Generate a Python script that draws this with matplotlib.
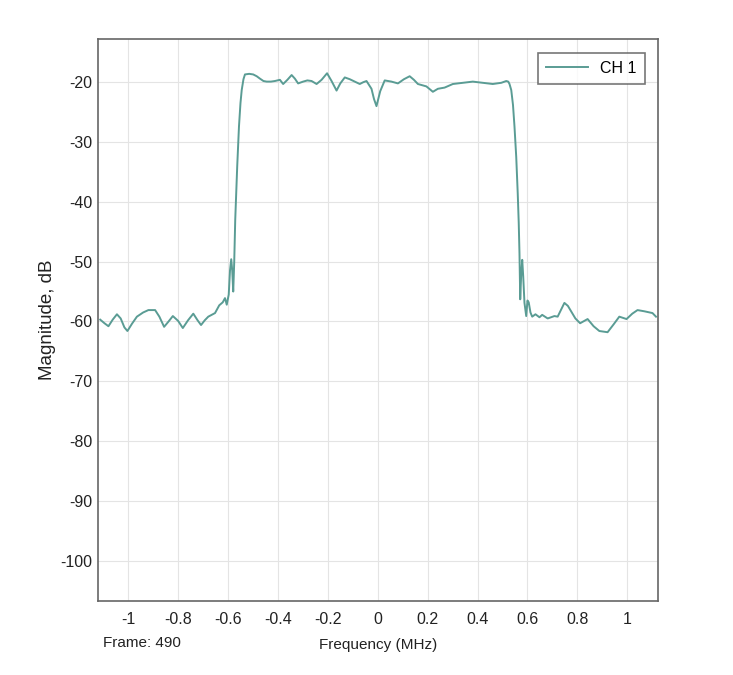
import matplotlib.pyplot as plt

plt.rcParams['font.family'] = ['Liberation Sans', 'DejaVu Sans']
plt.rcParams['axes.unicode_minus'] = False

# frequency response (MHz, dB)
freq = [-1.112, -1.095, -1.079, -1.062, -1.045, -1.030, -1.015, -1.003, -0.985,
        -0.965, -0.940, -0.919, -0.892, -0.875, -0.856, -0.838, -0.821, -0.800,
        -0.781, -0.760, -0.739, -0.722, -0.708, -0.693, -0.679, -0.652, -0.635,
        -0.621, -0.612, -0.605, -0.597, -0.592, -0.587, -0.583, -0.579, -0.575,
        -0.571, -0.563, -0.556, -0.550, -0.545, -0.538, -0.532, -0.515, -0.499,
        -0.485, -0.472, -0.458, -0.445, -0.428, -0.412, -0.392, -0.379, -0.362,
        -0.345, -0.332, -0.319, -0.299, -0.282, -0.265, -0.245, -0.225, -0.203,
        -0.185, -0.165, -0.150, -0.132, -0.112, -0.092, -0.072, -0.058, -0.045,
        -0.025, -0.015, -0.005, 0.010, 0.028, 0.055, 0.081, 0.105, 0.128, 0.145,
        0.161, 0.195, 0.221, 0.241, 0.268, 0.301, 0.341, 0.381, 0.421, 0.461,
        0.495, 0.515, 0.523, 0.528, 0.535, 0.542, 0.548, 0.555, 0.561, 0.565,
        0.568, 0.571, 0.575, 0.579, 0.583, 0.588, 0.595, 0.600, 0.605, 0.612,
        0.619, 0.632, 0.648, 0.659, 0.681, 0.708, 0.721, 0.735, 0.748, 0.762,
        0.775, 0.792, 0.811, 0.841, 0.865, 0.888, 0.921, 0.945, 0.968, 0.997,
        1.020, 1.041, 1.068, 1.101, 1.115]
mag = [-59.7, -60.3, -60.8, -59.7, -58.8, -59.5, -61.0, -61.6, -60.4,
       -59.2, -58.5, -58.1, -58.1, -59.2, -60.9, -60.0, -59.1, -59.9,
       -61.1, -59.8, -58.7, -59.8, -60.6, -59.8, -59.2, -58.6, -57.3,
       -56.8, -56.1, -57.2, -55.5, -51.5, -49.6, -51.5, -55.0, -50.0,
       -43.0, -34.0, -27.4, -23.5, -21.3, -19.5, -18.7, -18.6, -18.7,
       -19.0, -19.4, -19.8, -19.9, -19.9, -19.8, -19.6, -20.3, -19.6,
       -18.8, -19.4, -20.2, -19.9, -19.7, -19.8, -20.3, -19.6, -18.5,
       -19.8, -21.4, -20.2, -19.2, -19.5, -19.9, -20.3, -20.0, -19.8,
       -21.1, -22.8, -24.0, -21.5, -19.7, -19.9, -20.2, -19.5, -19.0, -19.6,
       -20.3, -20.7, -21.6, -21.1, -20.9, -20.3, -20.1, -19.9, -20.1, -20.3,
       -20.1, -19.8, -19.9, -20.3, -21.3, -23.8, -27.4, -32.5, -38.6, -43.5,
       -48.6, -56.3, -52.0, -49.7, -52.5, -56.9, -59.1, -56.5, -56.8, -58.5,
       -59.2, -58.8, -59.3, -58.9, -59.5, -59.1, -59.2, -58.0, -56.9, -57.4,
       -58.3, -59.5, -60.3, -59.6, -60.8, -61.6, -61.8, -60.5, -59.2, -59.6,
       -58.7, -58.1, -58.3, -58.6, -59.2]

xticks = [-1, -0.8, -0.6, -0.4, -0.2, 0, 0.2, 0.4, 0.6, 0.8, 1]
xtick_labels = ['-1', '-0.8', '-0.6', '-0.4', '-0.2', '0', '0.2', '0.4', '0.6', '0.8', '1']
yticks = [-100, -90, -80, -70, -60, -50, -40, -30, -20]

fig = plt.figure(figsize=(7.33, 6.75), dpi=100)
ax = fig.add_axes([0.134, 0.110, 0.764, 0.832])

ax.plot(freq, mag, color='#5a9c94', lw=1.4, label='CH 1')

ax.set_xlim(-1.12, 1.124)
ax.set_ylim(-106.7, -12.8)
ax.set_xticks(xticks)
ax.set_xticklabels(xtick_labels)
ax.set_yticks(yticks)
ax.tick_params(axis='y', length=0, labelsize=11.5, pad=4, colors='#222222')
ax.tick_params(axis='x', length=0, labelsize=11.5, pad=8, colors='#222222')
ax.grid(True, color='#e4e4e4', lw=0.8)
for s in ax.spines.values():
    s.set_color('#666666')
    s.set_linewidth(1.2)

ax.set_xlabel('Frequency (MHz)', fontsize=11, labelpad=8, color='#222222')
ax.set_ylabel('Magnitude, dB', fontsize=13.5, labelpad=3, color='#222222')
fig.text(0.141, 0.042, 'Frame: 490', fontsize=11, color='#222222')

leg = ax.legend(loc='upper right', fontsize=11.5, frameon=True, fancybox=False,
                handlelength=2.6, borderpad=0.5, bbox_to_anchor=(0.99, 0.99))
leg.get_frame().set_edgecolor('#555555')
leg.get_frame().set_linewidth(1.2)

fig.savefig('out.png', dpi=100)
